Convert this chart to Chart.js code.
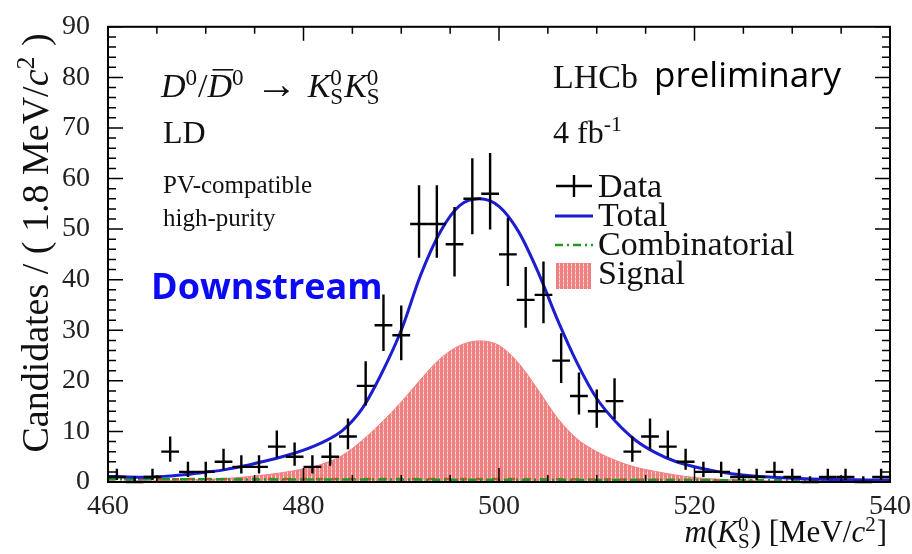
<!DOCTYPE html>
<html>
<head>
<meta charset="utf-8">
<script src="https://cdn.jsdelivr.net/npm/chart.js@4/dist/chart.umd.min.js"></script>
<style>
  html, body { margin: 0; padding: 0; background: #fff; }
</style>
</head>
<body>
<canvas id="chart" width="912" height="554"></canvas>
<script>
// m(KS) bin centres, 44 bins between 460 and 540 MeV/c2
const binCentres = [460.91, 462.73, 464.55, 466.36, 468.18, 470.00, 471.82, 473.64, 475.45, 477.27,
                    479.09, 480.91, 482.73, 484.55, 486.36, 488.18, 490.00, 491.82, 493.64, 495.45,
                    497.27, 499.09, 500.91, 502.73, 504.55, 506.36, 508.18, 510.00, 511.82, 513.64,
                    515.45, 517.27, 519.09, 520.91, 522.73, 524.55, 526.36, 528.18, 530.00, 531.82,
                    533.64, 535.45, 537.27, 539.09];
const candidates = [1, 0, 1, 6, 2, 2, 4, 3, 3, 7,
                    5, 3, 5, 9, 19, 31, 29, 51, 51, 47,
                    56, 57, 45, 36, 37, 24, 17, 14, 16, 6,
                    9, 7, 4, 2, 2, 1, 1, 2, 1, 0,
                    1, 1, 0, 1];
const binWidth = 80 / 44;

// fit curves
const totalMass = [460, 462, 464, 466, 468, 470, 472, 474, 476, 478, 480, 482, 484, 486, 488, 490, 492, 494, 496, 498,
                   500, 502, 504, 506, 508, 510, 512, 514, 516, 518, 520, 522, 524, 526, 528, 530, 532, 534, 536, 538, 540];
const totalFit = [1.1, 1.0, 0.95, 1.15, 1.5, 1.95, 2.45, 3.2, 4.1, 5.1, 6.3, 7.9, 10.2, 14.5, 21.5, 30.0, 41.0, 49.5, 54.7, 56.0,
                  54.5, 49.5, 41.5, 32.0, 23.5, 16.5, 11.8, 8.2, 5.8, 4.1, 3.0, 2.2, 1.6, 1.2, 0.95, 0.75, 0.6, 0.5, 0.45, 0.4, 0.4];

const signalMass = [460, 464, 468, 472, 474, 476, 478, 480, 482, 484, 486, 488, 490, 492, 494, 496, 498, 500,
                    502, 504, 506, 508, 510, 512, 514, 516, 518, 520, 522, 526, 532, 540];
const signalFit = [0.1, 0.2, 0.4, 0.7, 1.0, 1.4, 1.9, 2.6, 3.6, 5.3, 8.2, 11.8, 15.8, 20.3, 24.4, 27.0, 27.9, 27.0,
                   23.5, 18.2, 12.6, 8.5, 6.0, 4.2, 2.9, 2.1, 1.4, 0.9, 0.6, 0.3, 0.15, 0.05];

const combMass = [460, 480, 500, 520, 540];
const combFit = [0.55, 0.5, 0.45, 0.38, 0.3];

const otherMass = [460, 480, 500, 515, 526];
const otherFit = [0.55, 0.6, 0.6, 0.45, 0.25];

const xTicks = [460, 480, 500, 520, 540];
const yTicks = [0, 10, 20, 30, 40, 50, 60, 70, 80, 90];

const serif = '"Liberation Serif", "Times New Roman", serif';
const sans = '"Open Sans", "Noto Sans", sans-serif';

function pairs(xs, ys) {
  return xs.map((v, i) => ({ x: v, y: ys[i] }));
}

// hatched red fill like the ROOT style
function signalPattern() {
  const c = document.createElement('canvas');
  c.width = 4; c.height = 4;
  const g = c.getContext('2d');
  g.fillStyle = '#f08080';
  g.fillRect(0, 0, 4, 4);
  g.fillStyle = '#fcdcdc';
  g.fillRect(3, 0, 1, 2);
  g.fillStyle = '#f6b0b0';
  g.fillRect(3, 2, 1, 2);
  return g.createPattern(c, 'repeat');
}

function poissonErr(n) {
  if (n === 0) return [0, 1.15];
  const s = Math.sqrt(n + 0.25);
  return [n - s + 0.5, n + s + 0.5];
}

// mixed italic / super / subscript text
function drawRich(ctx, parts, x, y, size, align) {
  const small = size * 0.68;
  const fontOf = (p, s) => (p.i ? 'italic ' : '') + (p.s || s) + 'px ' + serif;
  const widthOf = p => {
    if (p.t !== undefined) { ctx.font = fontOf(p, size); return ctx.measureText(p.t).width; }
    ctx.font = fontOf({}, small);
    return Math.max(ctx.measureText(p.sup || '').width, ctx.measureText(p.sub || '').width) + 1;
  };
  const total = parts.reduce((s, p) => s + widthOf(p), 0);
  let cx = align === 'right' ? x - total : align === 'center' ? x - total / 2 : x;
  ctx.textAlign = 'left';
  ctx.textBaseline = 'alphabetic';
  parts.forEach(p => {
    const w = widthOf(p);
    if (p.t !== undefined) {
      ctx.font = fontOf(p, size);
      ctx.fillText(p.t, cx, y + (p.dy || 0));
      if (p.bar) {
        ctx.save();
        ctx.lineWidth = 1.6;
        ctx.beginPath();
        ctx.moveTo(cx + w * 0.2, y - size * 0.8);
        ctx.lineTo(cx + w * 1.05, y - size * 0.8);
        ctx.stroke();
        ctx.restore();
      }
    } else {
      ctx.font = fontOf({}, small);
      if (p.sup) ctx.fillText(p.sup, cx, y - size * 0.36);
      if (p.sub) ctx.fillText(p.sub, cx, y + size * 0.2);
    }
    cx += w;
  });
}

const decorations = {
  id: 'decorations',
  afterDatasetsDraw(chart) {
    const { ctx, chartArea: a, scales: { x, y } } = chart;
    ctx.save();

    // data points with error bars
    ctx.strokeStyle = '#000';
    ctx.lineWidth = 2.4;
    const meta = chart.getDatasetMeta(0);
    meta.data.forEach((pt, i) => {
      const [lo, hi] = poissonErr(candidates[i]);
      const xl = x.getPixelForValue(binCentres[i] - binWidth / 2);
      const xr = x.getPixelForValue(binCentres[i] + binWidth / 2);
      ctx.beginPath();
      ctx.moveTo(xl, pt.y);
      ctx.lineTo(xr, pt.y);
      ctx.moveTo(pt.x, y.getPixelForValue(lo));
      ctx.lineTo(pt.x, y.getPixelForValue(hi));
      ctx.stroke();
    });

    // frame and ROOT-style inward ticks
    ctx.lineWidth = 2;
    ctx.strokeRect(a.left, a.top, a.right - a.left, a.bottom - a.top);
    ctx.lineWidth = 1.5;
    ctx.beginPath();
    for (let v = 0; v <= 90; v += 2) {
      const py = y.getPixelForValue(v);
      const len = v % 10 === 0 ? 15 : 8;
      ctx.moveTo(a.left, py); ctx.lineTo(a.left + len, py);
      ctx.moveTo(a.right, py); ctx.lineTo(a.right - len, py);
    }
    for (let v = 460; v <= 540; v += 5) {
      const px = x.getPixelForValue(v);
      const len = v % 20 === 0 ? 14 : 7;
      ctx.moveTo(px, a.bottom); ctx.lineTo(px, a.bottom - len);
      ctx.moveTo(px, a.top); ctx.lineTo(px, a.top + len);
    }
    ctx.stroke();
    ctx.restore();
  },
  afterDraw(chart) {
    const { ctx } = chart;
    ctx.save();
    ctx.fillStyle = '#111';
    ctx.strokeStyle = '#111';

    // axis titles
    drawRich(ctx, [{ t: 'm', i: true }, { t: '(' }, { t: 'K', i: true }, { sup: '0', sub: 'S' },
                   { t: ') [MeV/' }, { t: 'c', i: true }, { sup: '2' }, { t: ']' }], 887, 542, 31, 'right');
    ctx.save();
    ctx.translate(48, 243);
    ctx.rotate(-Math.PI / 2);
    drawRich(ctx, [{ t: 'Candidates / ( 1.8 MeV/' }, { t: 'c', i: true }, { sup: '2' }, { t: ' )' }], 0, 0, 38, 'center');
    ctx.restore();

    // decay label and selections
    drawRich(ctx, [{ t: 'D', i: true }, { sup: '0' }, { t: '/' }, { t: 'D', i: true, bar: true }, { sup: '0' },
                   { t: ' \u2192 ', s: 42, dy: 1 }, { t: 'K', i: true }, { sup: '0', sub: 'S' }, { t: 'K', i: true }, { sup: '0', sub: 'S' }],
             161, 97, 34, 'left');
    drawRich(ctx, [{ t: 'LD' }], 163, 143, 32, 'left');
    drawRich(ctx, [{ t: 'PV-compatible' }], 163, 193, 25, 'left');
    drawRich(ctx, [{ t: 'high-purity' }], 163, 226, 25, 'left');

    drawRich(ctx, [{ t: 'LHCb' }], 553, 88, 34, 'left');
    ctx.font = '35px ' + sans;
    ctx.fillStyle = '#000';
    ctx.fillText('preliminary', 654, 87);
    ctx.fillStyle = '#111';
    drawRich(ctx, [{ t: '4 fb' }, { sup: '-1' }], 553, 143, 32, 'left');

    ctx.font = 'bold 36px ' + sans;
    ctx.fillStyle = '#0a0af5';
    ctx.fillText('Downstream', 151, 299);

    // legend
    ctx.fillStyle = '#111';
    ctx.strokeStyle = '#000';
    ctx.lineWidth = 2.4;
    ctx.beginPath();
    ctx.moveTo(556, 186); ctx.lineTo(592, 186);
    ctx.moveTo(574, 175); ctx.lineTo(574, 197);
    ctx.stroke();
    ctx.strokeStyle = '#1c1cd0';
    ctx.lineWidth = 3;
    ctx.beginPath();
    ctx.moveTo(555, 216); ctx.lineTo(593, 216);
    ctx.stroke();
    ctx.strokeStyle = '#1f9a2a';
    ctx.lineWidth = 2.5;
    ctx.setLineDash([8, 4, 2, 4]);
    ctx.beginPath();
    ctx.moveTo(555, 245); ctx.lineTo(593, 245);
    ctx.stroke();
    ctx.setLineDash([]);
    ctx.fillStyle = signalPattern();
    ctx.fillRect(556, 263, 35, 26);
    ctx.fillStyle = '#111';
    drawRich(ctx, [{ t: 'Data' }], 598, 197, 34, 'left');
    drawRich(ctx, [{ t: 'Total' }], 598, 226, 34, 'left');
    drawRich(ctx, [{ t: 'Combinatorial' }], 598, 255, 34, 'left');
    drawRich(ctx, [{ t: 'Signal' }], 598, 284, 34, 'left');
    ctx.restore();
  }
};

const context = document.querySelector('#chart');
const chart = new Chart(context, {
  type: 'scatter',
  data: {
    datasets: [
      {
        label: 'Data',
        data: pairs(binCentres, candidates),
        pointRadius: 0,
        showLine: false,
        order: 0
      },
      {
        type: 'line',
        label: 'Total',
        data: pairs(totalMass, totalFit),
        borderColor: '#1c1cd0',
        borderWidth: 3,
        pointRadius: 0,
        cubicInterpolationMode: 'monotone',
        fill: false,
        order: 1
      },
      {
        type: 'line',
        label: 'Combinatorial',
        data: pairs(combMass, combFit),
        borderColor: '#1f9a2a',
        borderWidth: 2.5,
        borderDash: [8, 4, 2, 4],
        pointRadius: 0,
        fill: false,
        order: 2
      },
      {
        type: 'line',
        label: 'Other',
        data: pairs(otherMass, otherFit),
        borderColor: '#b0602a',
        borderWidth: 2.5,
        borderDash: [7, 9],
        pointRadius: 0,
        fill: false,
        order: 3
      },
      {
        type: 'line',
        label: 'Signal',
        data: pairs(signalMass, signalFit),
        borderColor: '#f08080',
        borderWidth: 1,
        backgroundColor: signalPattern(),
        pointRadius: 0,
        cubicInterpolationMode: 'monotone',
        fill: 'origin',
        order: 4
      }
    ]
  },
  options: {
    responsive: false,
    animation: false,
    devicePixelRatio: 1,
    layout: { padding: { left: 0, right: 22, top: 18, bottom: 0 } },
    plugins: { legend: { display: false }, tooltip: { enabled: false } },
    scales: {
      x: {
        type: 'linear',
        min: 460,
        max: 540,
        afterBuildTicks: s => { s.ticks = xTicks.map(v => ({ value: v })); },
        afterFit: s => { s.height = 72; },
        grid: { display: false },
        border: { display: false },
        ticks: { color: '#222', padding: 0, maxRotation: 0, font: { family: serif, size: 28 } }
      },
      y: {
        type: 'linear',
        min: 0,
        max: 90,
        afterBuildTicks: s => { s.ticks = yTicks.map(v => ({ value: v })); },
        afterFit: s => { s.width = 108; },
        grid: { display: false },
        border: { display: false },
        ticks: { color: '#222', padding: 10, font: { family: serif, size: 28 } }
      }
    }
  },
  plugins: [decorations]
});
</script>
</body>
</html>
